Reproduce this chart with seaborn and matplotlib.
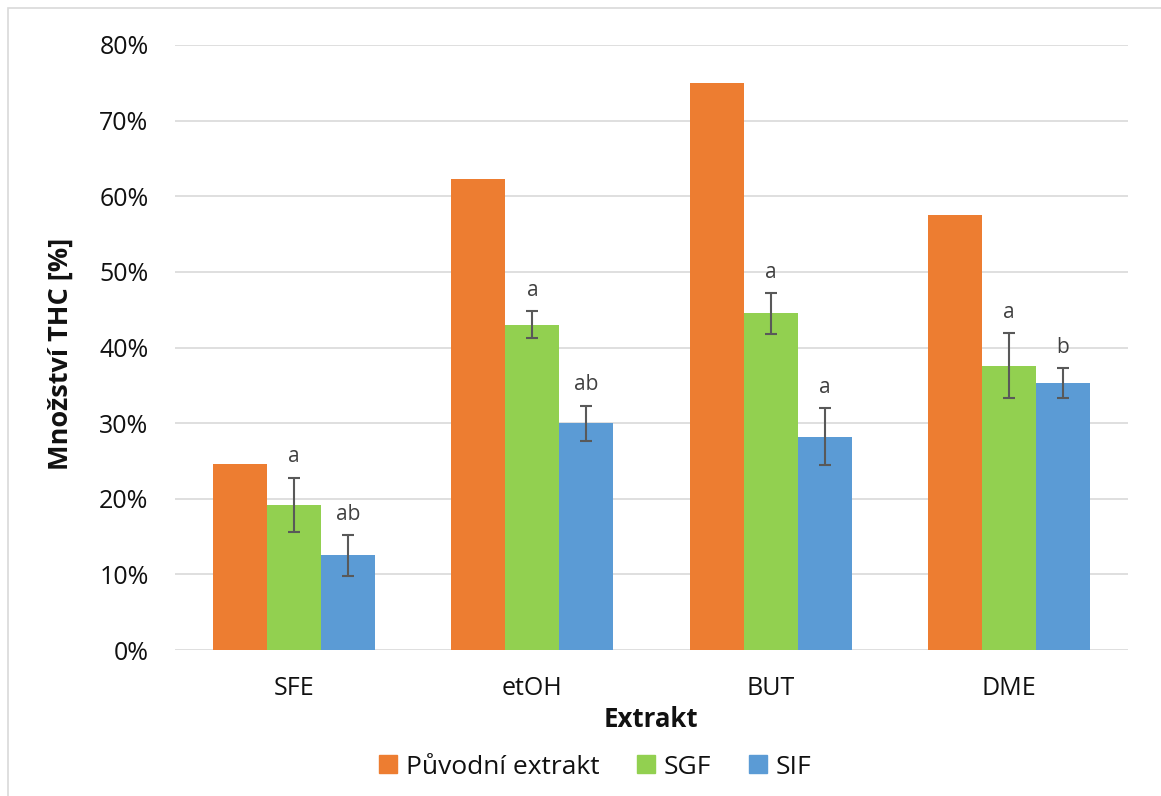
import numpy as np
import pandas as pd
import matplotlib
matplotlib.use("Agg")
import matplotlib.pyplot as plt
from matplotlib.patches import Rectangle
from matplotlib.lines import Line2D
from matplotlib.ticker import PercentFormatter
import seaborn as sns

# Data (fractions of THC)
extrakty = ["SFE", "etOH", "BUT", "DME"]
serie = ["Původní extrakt", "SGF", "SIF"]
puvodni = [0.246, 0.623, 0.750, 0.575]
sgf = [0.192, 0.430, 0.445, 0.376]
sif = [0.125, 0.300, 0.282, 0.353]
sgf_err = [0.036, 0.018, 0.027, 0.043]
sif_err = [0.027, 0.023, 0.038, 0.020]
sgf_pismena = ["a", "a", "a", "a"]
sif_pismena = ["ab", "ab", "a", "b"]

barvy = ["#ED7D31", "#92D050", "#5B9BD5"]

df = pd.DataFrame({
    "Extrakt": extrakty * 3,
    "Série": [serie[0]] * 4 + [serie[1]] * 4 + [serie[2]] * 4,
    "Hodnota": puvodni + sgf + sif,
})

sns.set_theme(style="white")
plt.rcParams["font.family"] = ["Open Sans", "DejaVu Sans"]

fig = plt.figure(figsize=(11.61, 7.96), dpi=100)
ax = fig.add_axes([175 / 1161, 1 - 650 / 796, (1128 - 175) / 1161, (650 - 45) / 796])

sns.barplot(data=df, x="Extrakt", y="Hodnota", hue="Série", order=extrakty,
            hue_order=serie, palette=barvy, width=0.68, gap=0, dodge=True,
            errorbar=None, saturation=1, ax=ax, legend=False, zorder=2,
            linewidth=0, edgecolor="none")

# error bars and significance letters for SGF and SIF
for cont, err, pismena in [(ax.containers[1], sgf_err, sgf_pismena),
                           (ax.containers[2], sif_err, sif_pismena)]:
    for bar, e, p in zip(cont, err, pismena):
        x = bar.get_x() + bar.get_width() / 2
        h = bar.get_height()
        ax.errorbar(x, h, yerr=e, fmt="none", ecolor="#595959", elinewidth=1.5,
                    capsize=4.5, capthick=1.5, zorder=3)
        ax.annotate(p, (x, h + e), xytext=(0, 11), textcoords="offset points",
                    ha="center", va="baseline", fontsize=15, color="#404040")

ax.set_ylim(0, 0.8)
ax.set_xlim(-0.5, 3.5)
ax.set_yticks(np.arange(0, 0.81, 0.1))
ax.yaxis.set_major_formatter(PercentFormatter(1.0, decimals=0))
ax.grid(axis="y", color="#D9D9D9", linewidth=1.2, zorder=0)
ax.set_axisbelow(True)
for s in ax.spines.values():
    s.set_visible(False)
ax.tick_params(axis="both", length=0, labelsize=18, labelcolor="#111111")
ax.tick_params(axis="y", pad=19)
ax.tick_params(axis="x", pad=19)

ax.set_xlabel("Extrakt", fontsize=18.5, fontweight="bold", color="#111111")
ax.set_ylabel("Množství THC [%]", fontsize=19.5, fontweight="bold", color="#111111")
ax.xaxis.set_label_coords(0.499, -0.092)
ax.yaxis.set_label_coords(-0.106, 0.49)

handles = [Line2D([0], [0], marker="s", linestyle="none", markersize=13,
                  markerfacecolor=c, markeredgecolor=c) for c in barvy]
leg = fig.legend(handles, serie, loc="center", bbox_to_anchor=(595 / 1161, 1 - 767 / 796),
                 ncol=3, frameon=False, fontsize=19, handlelength=0.7,
                 handletextpad=0.34, columnspacing=1.4)
for t in leg.get_texts():
    t.set_color("#111111")

# chart frame
fig.patches.append(Rectangle((8 / 1161, -0.01), 1.02, 1 - 8 / 796 + 0.01,
                             transform=fig.transFigure, fill=False,
                             edgecolor="#D9D9D9", linewidth=1.2))

fig.savefig("out.png", dpi=100)
